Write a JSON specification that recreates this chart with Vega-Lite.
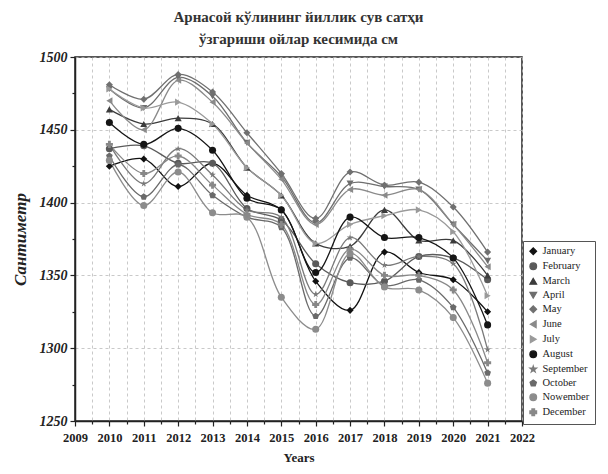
{
  "$schema": "https://vega.github.io/schema/vega-lite/v6.json",
  "width": 447,
  "height": 364,
  "autosize": "none",
  "padding": {"left": 75, "top": 57, "right": 86, "bottom": 53},
  "background": "white",
  "title": {
    "text": ["Арнасой кўлининг йиллик сув сатҳи", "ўзгариши ойлар кесимида см"],
    "font": "Liberation Serif",
    "fontSize": 15,
    "fontWeight": "bold",
    "color": "#333333",
    "anchor": "middle",
    "offset": 3,
    "lineHeight": 22
  },
  "config": {
    "view": {"stroke": "#222222", "strokeWidth": 1.5},
    "font": "Liberation Serif",
    "legend": {
      "orient": "none",
      "legendX": 448,
      "legendY": 184,
      "padding": 5,
      "strokeColor": "#555555",
      "fillColor": "white",
      "labelFont": "Liberation Serif",
      "labelFontSize": 10.5,
      "labelColor": "#222222",
      "symbolSize": 45,
      "rowPadding": 2,
      "labelOffset": 4,
      "labelLimit": 120,
      "symbolStrokeWidth": 1.2
    }
  },
  "datasets": {
    "levels": [
      {"m":"January","y":2010,"v":1425},{"m":"January","y":2011,"v":1430},{"m":"January","y":2012,"v":1411},{"m":"January","y":2013,"v":1427},{"m":"January","y":2014,"v":1405},{"m":"January","y":2015,"v":1395},{"m":"January","y":2016,"v":1346},{"m":"January","y":2017,"v":1326},{"m":"January","y":2018,"v":1366},{"m":"January","y":2019,"v":1352},{"m":"January","y":2020,"v":1347},{"m":"January","y":2021,"v":1325},
      {"m":"February","y":2010,"v":1437},{"m":"February","y":2011,"v":1439},{"m":"February","y":2012,"v":1427},{"m":"February","y":2013,"v":1427},{"m":"February","y":2014,"v":1396},{"m":"February","y":2015,"v":1388},{"m":"February","y":2016,"v":1358},{"m":"February","y":2017,"v":1345},{"m":"February","y":2018,"v":1346},{"m":"February","y":2019,"v":1363},{"m":"February","y":2020,"v":1362},{"m":"February","y":2021,"v":1347},
      {"m":"March","y":2010,"v":1464},{"m":"March","y":2011,"v":1454},{"m":"March","y":2012,"v":1458},{"m":"March","y":2013,"v":1454},{"m":"March","y":2014,"v":1424},{"m":"March","y":2015,"v":1405},{"m":"March","y":2016,"v":1372},{"m":"March","y":2017,"v":1370},{"m":"March","y":2018,"v":1395},{"m":"March","y":2019,"v":1374},{"m":"March","y":2020,"v":1374},{"m":"March","y":2021,"v":1350},
      {"m":"April","y":2010,"v":1478},{"m":"April","y":2011,"v":1465},{"m":"April","y":2012,"v":1486},{"m":"April","y":2013,"v":1473},{"m":"April","y":2014,"v":1441},{"m":"April","y":2015,"v":1418},{"m":"April","y":2016,"v":1386},{"m":"April","y":2017,"v":1413},{"m":"April","y":2018,"v":1411},{"m":"April","y":2019,"v":1409},{"m":"April","y":2020,"v":1385},{"m":"April","y":2021,"v":1360},
      {"m":"May","y":2010,"v":1481},{"m":"May","y":2011,"v":1471},{"m":"May","y":2012,"v":1488},{"m":"May","y":2013,"v":1476},{"m":"May","y":2014,"v":1448},{"m":"May","y":2015,"v":1420},{"m":"May","y":2016,"v":1389},{"m":"May","y":2017,"v":1421},{"m":"May","y":2018,"v":1412},{"m":"May","y":2019,"v":1414},{"m":"May","y":2020,"v":1397},{"m":"May","y":2021,"v":1366},
      {"m":"June","y":2010,"v":1470},{"m":"June","y":2011,"v":1450},{"m":"June","y":2012,"v":1484},{"m":"June","y":2013,"v":1469},{"m":"June","y":2014,"v":1441},{"m":"June","y":2015,"v":1416},{"m":"June","y":2016,"v":1385},{"m":"June","y":2017,"v":1409},{"m":"June","y":2018,"v":1405},{"m":"June","y":2019,"v":1409},{"m":"June","y":2020,"v":1385},{"m":"June","y":2021,"v":1356},
      {"m":"July","y":2010,"v":1478},{"m":"July","y":2011,"v":1465},{"m":"July","y":2012,"v":1469},{"m":"July","y":2013,"v":1454},{"m":"July","y":2014,"v":1424},{"m":"July","y":2015,"v":1405},{"m":"July","y":2016,"v":1372},{"m":"July","y":2017,"v":1385},{"m":"July","y":2018,"v":1391},{"m":"July","y":2019,"v":1395},{"m":"July","y":2020,"v":1380},{"m":"July","y":2021,"v":1336},
      {"m":"August","y":2010,"v":1455},{"m":"August","y":2011,"v":1440},{"m":"August","y":2012,"v":1451},{"m":"August","y":2013,"v":1436},{"m":"August","y":2014,"v":1403},{"m":"August","y":2015,"v":1395},{"m":"August","y":2016,"v":1352},{"m":"August","y":2017,"v":1390},{"m":"August","y":2018,"v":1376},{"m":"August","y":2019,"v":1376},{"m":"August","y":2020,"v":1362},{"m":"August","y":2021,"v":1316},
      {"m":"September","y":2010,"v":1440},{"m":"September","y":2011,"v":1413},{"m":"September","y":2012,"v":1437},{"m":"September","y":2013,"v":1419},{"m":"September","y":2014,"v":1395},{"m":"September","y":2015,"v":1390},{"m":"September","y":2016,"v":1337},{"m":"September","y":2017,"v":1376},{"m":"September","y":2018,"v":1357},{"m":"September","y":2019,"v":1363},{"m":"September","y":2020,"v":1358},{"m":"September","y":2021,"v":1299},
      {"m":"October","y":2010,"v":1432},{"m":"October","y":2011,"v":1404},{"m":"October","y":2012,"v":1426},{"m":"October","y":2013,"v":1405},{"m":"October","y":2014,"v":1390},{"m":"October","y":2015,"v":1383},{"m":"October","y":2016,"v":1322},{"m":"October","y":2017,"v":1362},{"m":"October","y":2018,"v":1343},{"m":"October","y":2019,"v":1347},{"m":"October","y":2020,"v":1328},{"m":"October","y":2021,"v":1283},
      {"m":"Nowember","y":2010,"v":1429},{"m":"Nowember","y":2011,"v":1398},{"m":"Nowember","y":2012,"v":1421},{"m":"Nowember","y":2013,"v":1393},{"m":"Nowember","y":2014,"v":1390},{"m":"Nowember","y":2015,"v":1335},{"m":"Nowember","y":2016,"v":1313},{"m":"Nowember","y":2017,"v":1365},{"m":"Nowember","y":2018,"v":1342},{"m":"Nowember","y":2019,"v":1340},{"m":"Nowember","y":2020,"v":1321},{"m":"Nowember","y":2021,"v":1276},
      {"m":"December","y":2010,"v":1440},{"m":"December","y":2011,"v":1420},{"m":"December","y":2012,"v":1432},{"m":"December","y":2013,"v":1412},{"m":"December","y":2014,"v":1392},{"m":"December","y":2015,"v":1385},{"m":"December","y":2016,"v":1330},{"m":"December","y":2017,"v":1368},{"m":"December","y":2018,"v":1350},{"m":"December","y":2019,"v":1350},{"m":"December","y":2020,"v":1340},{"m":"December","y":2021,"v":1290}
    ]
  },
  "data": {"name": "levels"},
  "encoding": {
    "x": {
      "field": "y", "type": "quantitative",
      "scale": {"domain": [2009, 2022], "zero": false, "nice": false},
      "axis": {
        "title": "Years",
        "titleFont": "Liberation Serif", "titleFontSize": 13, "titleFontWeight": "bold", "titleColor": "#222222", "titlePadding": 8,
        "values": [2009,2009.5,2010,2010.5,2011,2011.5,2012,2012.5,2013,2013.5,2014,2014.5,2015,2015.5,2016,2016.5,2017,2017.5,2018,2018.5,2019,2019.5,2020,2020.5,2021,2021.5,2022],
        "labelExpr": "datum.value % 1 == 0 ? format(datum.value, 'd') : ''",
        "labelFont": "Liberation Serif", "labelFontSize": 12.5, "labelFontWeight": "bold", "labelColor": "#222222", "labelPadding": 5,
        "labelOverlap": false, "labelFlush": false,
        "domainColor": "#222222", "domainWidth": 1.5,
        "tickColor": "#222222", "tickWidth": 1.2,
        "tickSize": {"condition": {"test": "datum.value % 1 == 0", "value": 5}, "value": 3},
        "grid": true, "gridDash": [3, 3], "gridColor": "#bbbbbb", "gridWidth": 0.8
      }
    },
    "y": {
      "field": "v", "type": "quantitative",
      "scale": {"domain": [1250, 1500], "zero": false, "nice": false},
      "axis": {
        "title": "Сантиметр",
        "titleFont": "Liberation Serif", "titleFontSize": 17, "titleFontWeight": "bold", "titleFontStyle": "italic", "titleColor": "#222222", "titlePadding": 10,
        "values": [1250,1275,1300,1325,1350,1375,1400,1425,1450,1475,1500],
        "labelExpr": "datum.value % 50 == 0 ? format(datum.value, 'd') : ''",
        "labelFont": "Liberation Serif", "labelFontSize": 14, "labelFontWeight": "bold", "labelFontStyle": "italic", "labelColor": "#222222", "labelPadding": 3,
        "labelFlush": false,
        "domainColor": "#222222", "domainWidth": 1.5,
        "tickColor": "#222222", "tickWidth": 1.2,
        "tickSize": {"condition": {"test": "datum.value % 50 == 0", "value": 5}, "value": 3},
        "grid": true, "gridDash": [3, 3], "gridColor": "#bbbbbb", "gridWidth": 0.8,
        "gridOpacity": {"condition": {"test": "datum.value % 50 == 0", "value": 1}, "value": 0}
      }
    },
    "color": {
      "field": "m", "type": "nominal", "title": null,
      "scale": {
        "domain": ["January","February","March","April","May","June","July","August","September","October","Nowember","December"],
        "range": ["#111111","#5a5a5a","#3c3c3c","#6e6e6e","#707070","#8a8a8a","#9a9a9a","#151515","#7a7a7a","#6a6a6a","#8c8c8c","#888888"]
      }
    }
  },
  "layer": [
    {
      "mark": {"type": "line", "interpolate": "catmull-rom", "strokeWidth": 1.3}
    },
    {
      "mark": {"type": "point", "filled": true, "size": 50, "opacity": 1},
      "encoding": {
        "shape": {
          "field": "m", "type": "nominal", "title": null,
          "scale": {
            "domain": ["January","February","March","April","May","June","July","August","September","October","Nowember","December"],
            "range": ["diamond","circle","triangle-up","triangle-down","diamond","triangle-left","triangle-right","circle","M0,-1L0.2245,-0.309L0.951,-0.309L0.363,0.118L0.588,0.809L0,0.382L-0.588,0.809L-0.363,0.118L-0.951,-0.309L-0.2245,-0.309Z","M0,-1L0.951,-0.309L0.588,0.809L-0.588,0.809L-0.951,-0.309Z","circle","cross"]
          }
        }
      }
    }
  ]
}
